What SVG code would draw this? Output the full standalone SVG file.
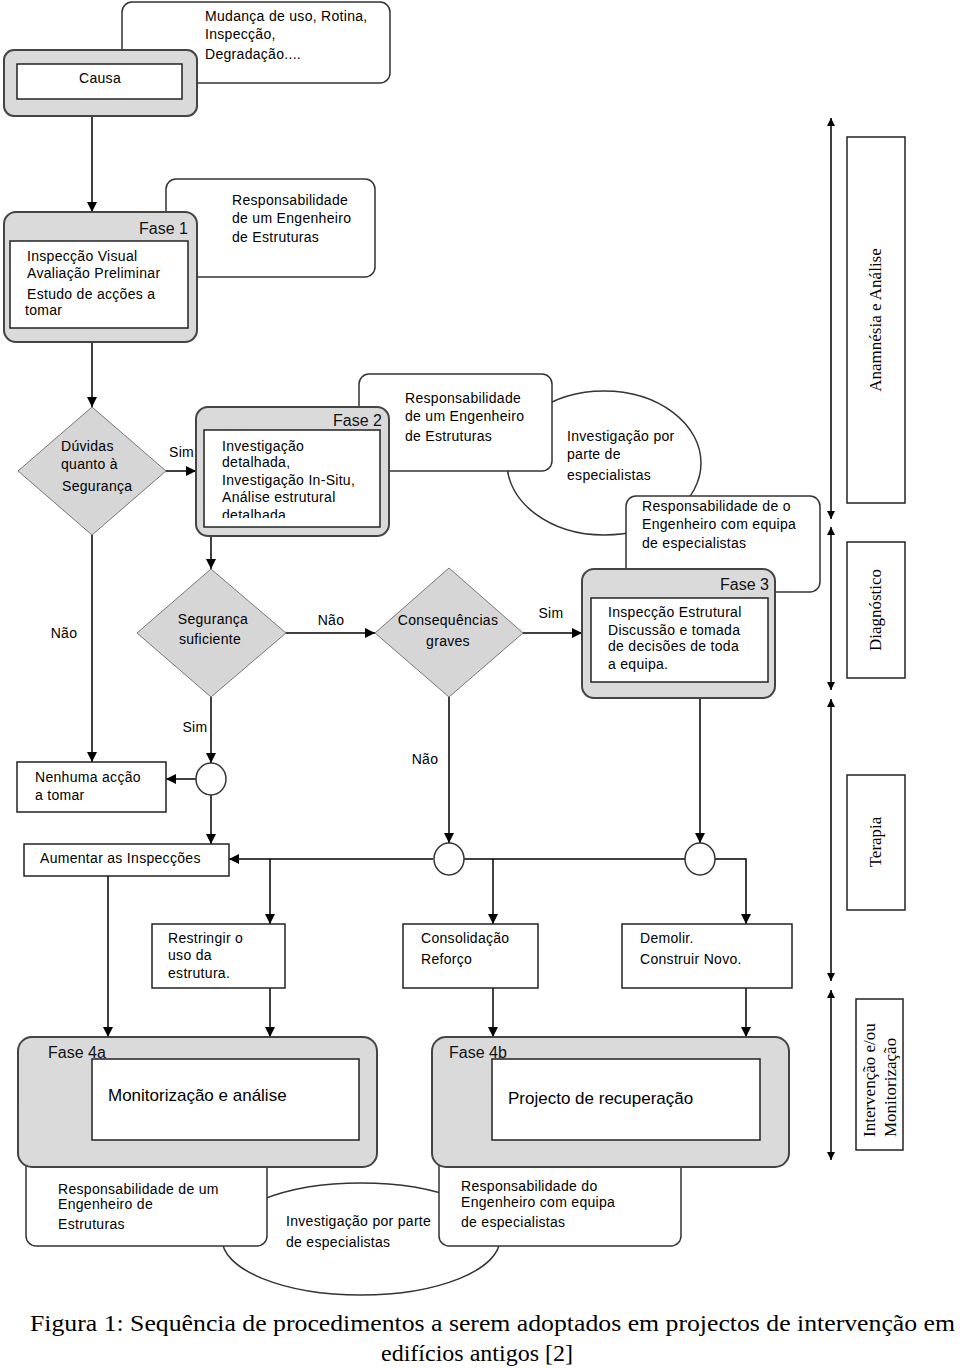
<svg xmlns="http://www.w3.org/2000/svg" width="960" height="1368" viewBox="0 0 960 1368">
<style>
.t{font-family:"Liberation Sans",Arial,sans-serif;font-size:14px;letter-spacing:0.3px;fill:#000}
.f{font-family:"Liberation Sans",Arial,sans-serif;font-size:16px;fill:#111}
.big{font-family:"Liberation Sans",Arial,sans-serif;font-size:17px;fill:#000}
.s{font-family:"Liberation Serif","Times New Roman",serif;font-size:17px;fill:#000}
.cap{font-family:"Liberation Serif","Times New Roman",serif;font-size:24px;fill:#000}
.ph{fill:#dadada;stroke:#444;stroke-width:2}
.in{fill:#fff;stroke:#222;stroke-width:1.5}
.co{fill:#fff;stroke:#333;stroke-width:1.5}
.dia{fill:#d6d6d6;stroke:#777;stroke-width:1}
.ln{stroke:#000;stroke-width:1.5;fill:none}
.cir{fill:#fff;stroke:#333;stroke-width:1.5}
.box{fill:#fff;stroke:#222;stroke-width:1.5}
</style>
<defs>
<marker id="a" viewBox="0 0 10 10" refX="10" refY="5" markerWidth="10" markerHeight="10" markerUnits="userSpaceOnUse" orient="auto-start-reverse">
<path d="M0,0 L10,5 L0,10 z" fill="#000"/>
</marker>
<marker id="b" viewBox="0 0 10 10" refX="10" refY="5" markerWidth="10" markerHeight="8" markerUnits="userSpaceOnUse" orient="auto-start-reverse">
<path d="M0,0 L10,5 L0,10 z" fill="#000"/>
</marker>
<clipPath id="c2"><rect x="204" y="430" width="176" height="88"/></clipPath>
</defs>
<rect width="960" height="1368" fill="#fff"/>

<g id="callout-mudanca">
<rect class="co" x="122" y="2" width="268" height="81" rx="10"/>
<text class="t" x="205" y="21">Mudança de uso, Rotina,</text>
<text class="t" x="205" y="39">Inspecção,</text>
<text class="t" x="205" y="59">Degradação....</text>
</g>
<g id="callout-resp1">
<rect class="co" x="166" y="179" width="209" height="98" rx="10"/>
<text class="t" x="232" y="205">Responsabilidade</text>
<text class="t" x="232" y="223">de um Engenheiro</text>
<text class="t" x="232" y="242">de Estruturas</text>
</g>
<g id="ellipse-espec1">
<ellipse class="co" cx="604" cy="463" rx="97" ry="72"/>
<text class="t" x="567" y="441">Investigação por</text>
<text class="t" x="567" y="459">parte de</text>
<text class="t" x="567" y="480">especialistas</text>
</g>
<g id="callout-resp2">
<rect class="co" x="359" y="374" width="193" height="97" rx="10"/>
<text class="t" x="405" y="403">Responsabilidade</text>
<text class="t" x="405" y="421">de um Engenheiro</text>
<text class="t" x="405" y="441">de Estruturas</text>
</g>
<g id="callout-resp3">
<rect class="co" x="626" y="496" width="194" height="96" rx="10"/>
<text class="t" x="642" y="511">Responsabilidade de o</text>
<text class="t" x="642" y="529">Engenheiro com equipa</text>
<text class="t" x="642" y="548">de especialistas</text>
</g>
<g id="ellipse-espec2">
<ellipse class="co" cx="361" cy="1239" rx="139" ry="56"/>
<text class="t" x="286" y="1226">Investigação por parte</text>
<text class="t" x="286" y="1247">de especialistas</text>
</g>
<g id="callout-resp4a">
<rect class="co" x="26" y="1150" width="241" height="96" rx="10"/>
<text class="t" x="58" y="1194">Responsabilidade de um</text>
<text class="t" x="58" y="1209">Engenheiro de</text>
<text class="t" x="58" y="1229">Estruturas</text>
</g>
<g id="callout-resp4b">
<rect class="co" x="439" y="1150" width="242" height="96" rx="10"/>
<text class="t" x="461" y="1191">Responsabilidade do</text>
<text class="t" x="461" y="1207">Engenheiro com equipa</text>
<text class="t" x="461" y="1227">de especialistas</text>
</g>

<g id="connectors">
<line class="ln" x1="92" y1="116" x2="92" y2="212" marker-end="url(#a)"/>
<line class="ln" x1="92" y1="342" x2="92" y2="407" marker-end="url(#a)"/>
<line class="ln" x1="166" y1="471" x2="196" y2="471" marker-end="url(#a)"/>
<line class="ln" x1="92" y1="535" x2="92" y2="762" marker-end="url(#a)"/>
<line class="ln" x1="211" y1="536" x2="211" y2="569" marker-end="url(#a)"/>
<line class="ln" x1="286" y1="633" x2="375" y2="633" marker-end="url(#a)"/>
<line class="ln" x1="523" y1="633" x2="582" y2="633" marker-end="url(#a)"/>
<line class="ln" x1="211" y1="697" x2="211" y2="763" marker-end="url(#a)"/>
<line class="ln" x1="196" y1="779" x2="166" y2="779" marker-end="url(#a)"/>
<line class="ln" x1="211" y1="795" x2="211" y2="844" marker-end="url(#a)"/>
<line class="ln" x1="449" y1="697" x2="449" y2="843" marker-end="url(#a)"/>
<line class="ln" x1="700" y1="698" x2="700" y2="843" marker-end="url(#a)"/>
<line class="ln" x1="433" y1="859" x2="229" y2="859" marker-end="url(#a)"/>
<polyline class="ln" points="270,859 270,924" marker-end="url(#a)"/>
<line class="ln" x1="464" y1="859" x2="685" y2="859"/>
<polyline class="ln" points="493,859 493,924" marker-end="url(#a)"/>
<polyline class="ln" points="715,859 746,859 746,924" marker-end="url(#a)"/>
<line class="ln" x1="108" y1="876" x2="108" y2="1037" marker-end="url(#a)"/>
<line class="ln" x1="270" y1="988" x2="270" y2="1037" marker-end="url(#a)"/>
<line class="ln" x1="493" y1="988" x2="493" y2="1037" marker-end="url(#a)"/>
<line class="ln" x1="746" y1="988" x2="746" y2="1037" marker-end="url(#a)"/>
<line class="ln" x1="831" y1="118" x2="831" y2="519" marker-start="url(#b)" marker-end="url(#b)"/>
<line class="ln" x1="831" y1="527" x2="831" y2="690" marker-start="url(#b)" marker-end="url(#b)"/>
<line class="ln" x1="831" y1="699" x2="831" y2="981" marker-start="url(#b)" marker-end="url(#b)"/>
<line class="ln" x1="831" y1="990" x2="831" y2="1160" marker-start="url(#b)" marker-end="url(#b)"/>
<text class="t" x="169" y="457">Sim</text>
<text class="t" x="331" y="625" text-anchor="middle">Não</text>
<text class="t" x="551" y="618" text-anchor="middle">Sim</text>
<text class="t" x="64" y="638" text-anchor="middle">Não</text>
<text class="t" x="195" y="732" text-anchor="middle">Sim</text>
<text class="t" x="425" y="764" text-anchor="middle">Não</text>
</g>

<g id="causa">
<rect class="ph" x="4" y="50" width="193" height="66" rx="10"/>
<rect class="in" x="17" y="64" width="165" height="35"/>
<text class="t" x="100" y="83" text-anchor="middle">Causa</text>
</g>
<g id="fase1">
<rect class="ph" x="4" y="212" width="193" height="130" rx="12"/>
<rect class="in" x="10" y="241" width="178" height="87"/>
<text class="f" x="188" y="234" text-anchor="end">Fase 1</text>
<text class="t" x="27" y="261">Inspecção Visual</text>
<text class="t" x="27" y="278">Avaliação Preliminar</text>
<text class="t" x="27" y="299">Estudo de acções a</text>
<text class="t" x="25" y="315">tomar</text>
</g>
<g id="duvidas">
<polygon class="dia" points="92,407 166,471 92,535 18,471"/>
<text class="t" x="61" y="451">Dúvidas</text>
<text class="t" x="61" y="469">quanto à</text>
<text class="t" x="62" y="491">Segurança</text>
</g>
<g id="fase2">
<rect class="ph" x="196" y="407" width="193" height="129" rx="12"/>
<rect class="in" x="204" y="430" width="176" height="97"/>
<text class="f" x="382" y="426" text-anchor="end">Fase 2</text>
<g clip-path="url(#c2)">
<text class="t" x="222" y="451">Investigação</text>
<text class="t" x="222" y="467">detalhada,</text>
<text class="t" x="222" y="485">Investigação In-Situ,</text>
<text class="t" x="222" y="502">Análise estrutural</text>
<text class="t" x="222" y="520">detalhada</text>
</g>
</g>
<g id="seguranca">
<polygon class="dia" points="211,569 286,633 211,697 137,633"/>
<text class="t" x="213" y="624" text-anchor="middle">Segurança</text>
<text class="t" x="210" y="644" text-anchor="middle">suficiente</text>
</g>
<g id="consequencias">
<polygon class="dia" points="449,568 523,633 449,697 375,633"/>
<text class="t" x="448" y="625" text-anchor="middle">Consequências</text>
<text class="t" x="448" y="646" text-anchor="middle">graves</text>
</g>
<g id="fase3">
<rect class="ph" x="582" y="569" width="193" height="129" rx="12"/>
<rect class="in" x="591" y="598" width="177" height="84"/>
<text class="f" x="769" y="590" text-anchor="end">Fase 3</text>
<text class="t" x="608" y="617">Inspecção Estrutural</text>
<text class="t" x="608" y="635">Discussão e tomada</text>
<text class="t" x="608" y="651">de decisões de toda</text>
<text class="t" x="608" y="669">a equipa.</text>
</g>
<g id="nenhuma">
<rect class="box" x="17" y="762" width="149" height="50"/>
<text class="t" x="35" y="782">Nenhuma acção</text>
<text class="t" x="35" y="800">a tomar</text>
</g>
<g id="juncao1"><ellipse class="cir" cx="211" cy="779" rx="15" ry="16"/></g>
<g id="juncao2"><ellipse class="cir" cx="449" cy="859" rx="15" ry="16"/></g>
<g id="juncao3"><ellipse class="cir" cx="700" cy="859" rx="15" ry="16"/></g>
<g id="aumentar">
<rect class="box" x="24" y="844" width="205" height="32"/>
<text class="t" x="40" y="863">Aumentar as Inspecções</text>
</g>
<g id="restringir">
<rect class="box" x="152" y="924" width="133" height="64"/>
<text class="t" x="168" y="943">Restringir o</text>
<text class="t" x="168" y="960">uso da</text>
<text class="t" x="168" y="978">estrutura.</text>
</g>
<g id="consolidacao">
<rect class="box" x="403" y="924" width="135" height="64"/>
<text class="t" x="421" y="943">Consolidação</text>
<text class="t" x="421" y="964">Reforço</text>
</g>
<g id="demolir">
<rect class="box" x="622" y="924" width="170" height="64"/>
<text class="t" x="640" y="943">Demolir.</text>
<text class="t" x="640" y="964">Construir Novo.</text>
</g>
<g id="fase4a">
<rect class="ph" x="18" y="1037" width="359" height="130" rx="14"/>
<rect class="in" x="92" y="1059" width="267" height="81"/>
<text class="f" x="48" y="1058">Fase 4a</text>
<text class="big" x="108" y="1101">Monitorização e análise</text>
</g>
<g id="fase4b">
<rect class="ph" x="432" y="1037" width="357" height="130" rx="14"/>
<rect class="in" x="492" y="1059" width="268" height="81"/>
<text class="f" x="449" y="1058">Fase 4b</text>
<text class="big" x="508" y="1104">Projecto de recuperação</text>
</g>

<g id="anamnesia">
<rect class="box" x="847" y="137" width="58" height="366"/>
<text class="s" transform="translate(881,320) rotate(-90)" text-anchor="middle">Anamnésia e Análise</text>
</g>
<g id="diagnostico">
<rect class="box" x="847" y="542" width="58" height="136"/>
<text class="s" transform="translate(881,610) rotate(-90)" text-anchor="middle">Diagnóstico</text>
</g>
<g id="terapia">
<rect class="box" x="847" y="775" width="58" height="135"/>
<text class="s" transform="translate(881,842) rotate(-90)" text-anchor="middle">Terapia</text>
</g>
<g id="intervencao">
<rect class="box" x="856" y="999" width="47" height="151"/>
<text class="s" transform="translate(875,1137) rotate(-90)">Intervenção e/ou</text>
<text class="s" transform="translate(896,1137) rotate(-90)">Monitorização</text>
</g>

<g id="caption">
<text class="cap" x="30" y="1331" textLength="925" lengthAdjust="spacingAndGlyphs">Figura 1: Sequência de procedimentos a serem adoptados em projectos de intervenção em</text>
<text class="cap" x="477" y="1361" text-anchor="middle">edifícios antigos [2]</text>
</g>
</svg>
